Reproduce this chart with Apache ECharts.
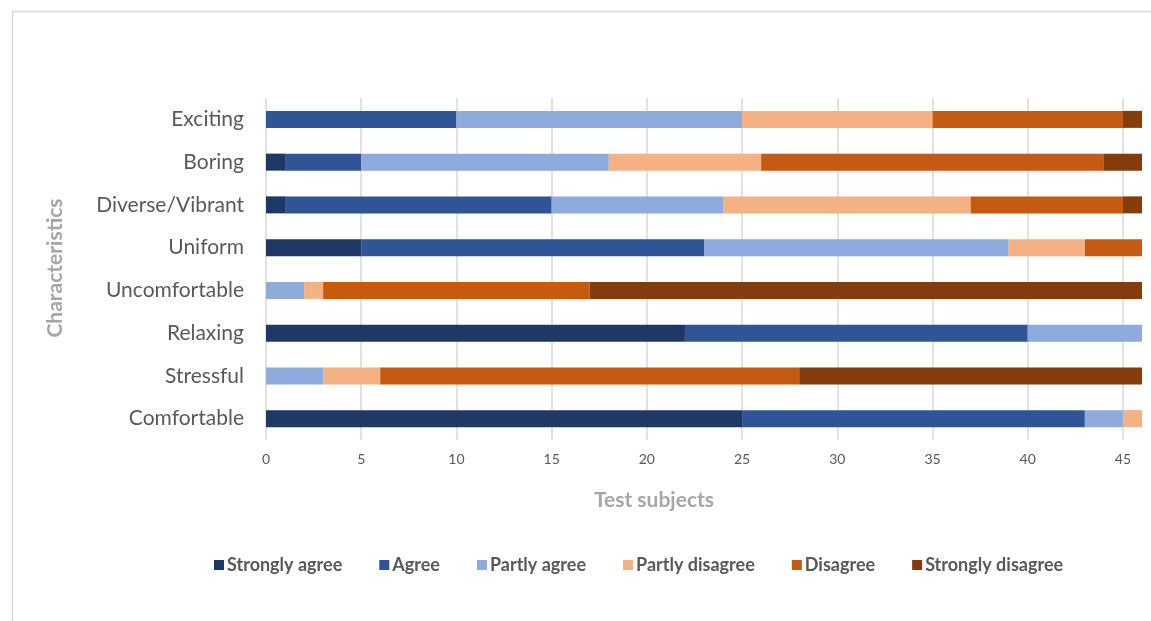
<!DOCTYPE html>
<html>
<head>
<meta charset="utf-8">
<script src="https://cdn.jsdelivr.net/npm/echarts@6/dist/echarts.min.js"></script>
<style>
  html, body { margin: 0; padding: 0; background: #ffffff; }
  #chart { width: 1151px; height: 621px; }
</style>
</head>
<body>
<div id="chart"></div>
<script>
// Survey answers per characteristic (number of test subjects)
const categories = ['Exciting', 'Boring', 'Diverse/Vibrant', 'Uniform', 'Uncomfortable', 'Relaxing', 'Stressful', 'Comfortable'];
const stronglyAgree    = [0, 1, 1, 5, 0, 22, 0, 25];
const agree            = [10, 4, 14, 18, 0, 18, 0, 18];
const partlyAgree      = [15, 13, 9, 16, 2, 6, 3, 2];
const partlyDisagree   = [10, 8, 13, 4, 1, 0, 3, 1];
const disagree         = [10, 18, 8, 3, 14, 0, 22, 0];
const stronglyDisagree = [1, 2, 1, 0, 29, 0, 18, 0];

const xTicks = { min: 0, max: 46, interval: 5 };

const FONT = 'Lato, "Open Sans", sans-serif';

const seriesDefs = [
  { name: 'Strongly agree', data: stronglyAgree, color: '#203864' },
  { name: 'Agree', data: agree, color: '#2f5597' },
  { name: 'Partly agree', data: partlyAgree, color: '#8faadc' },
  { name: 'Partly disagree', data: partlyDisagree, color: '#f4b183' },
  { name: 'Disagree', data: disagree, color: '#c55a11' },
  { name: 'Strongly disagree', data: stronglyDisagree, color: '#843c0c' }
];

const chart = echarts.init(document.getElementById('chart'), null, { renderer: 'canvas' });

chart.setOption({
  animation: false,
  backgroundColor: '#ffffff',
  textStyle: { fontFamily: FONT },
  grid: { left: 266, right: 9, top: 98, bottom: 181, containLabel: false },
  legend: {
    top: 551,
    left: 209,
    itemWidth: 10,
    itemHeight: 10,
    itemGap: 37,
    icon: 'rect',
    textStyle: { fontFamily: FONT, fontSize: 18, fontWeight: 'bold', color: '#595959', padding: [0, 0, 0, -2] },
    data: seriesDefs.map(s => s.name)
  },
  xAxis: {
    type: 'value',
    min: xTicks.min,
    max: xTicks.max,
    interval: xTicks.interval,
    axisLine: { show: false },
    axisTick: { show: false },
    axisLabel: { color: '#595959', fontSize: 14, margin: 12, showMaxLabel: false, fontFamily: FONT },
    splitLine: { show: true, showMaxLine: false, lineStyle: { color: '#d9d9d9', width: 1.5 } }
  },
  yAxis: {
    type: 'category',
    inverse: true,
    data: categories,
    axisLine: { show: false },
    axisTick: { show: false },
    axisLabel: { color: '#595959', fontSize: 21, margin: 22, fontFamily: FONT }
  },
  series: seriesDefs.map(s => ({
    name: s.name,
    type: 'bar',
    stack: 'total',
    barWidth: 17,
    data: s.data,
    itemStyle: { color: s.color }
  })),
  graphic: [
    {
      type: 'rect',
      left: 10, top: 9,
      shape: { width: 1160, height: 700 },
      style: { fill: 'none', stroke: '#d9d9d9', lineWidth: 1.5 },
      silent: true
    },
    {
      type: 'text',
      x: 654, y: 500,
      style: { text: 'Test subjects', fill: '#a6a6a6', font: 'bold 21px ' + FONT, align: 'center', verticalAlign: 'middle' }
    },
    {
      type: 'text',
      x: 55, y: 268,
      rotation: Math.PI / 2,
      style: { text: 'Characteristics', fill: '#a6a6a6', font: 'bold 21px ' + FONT, align: 'center', verticalAlign: 'middle' },
      originX: 0, originY: 0
    }
  ]
});
</script>
</body>
</html>
